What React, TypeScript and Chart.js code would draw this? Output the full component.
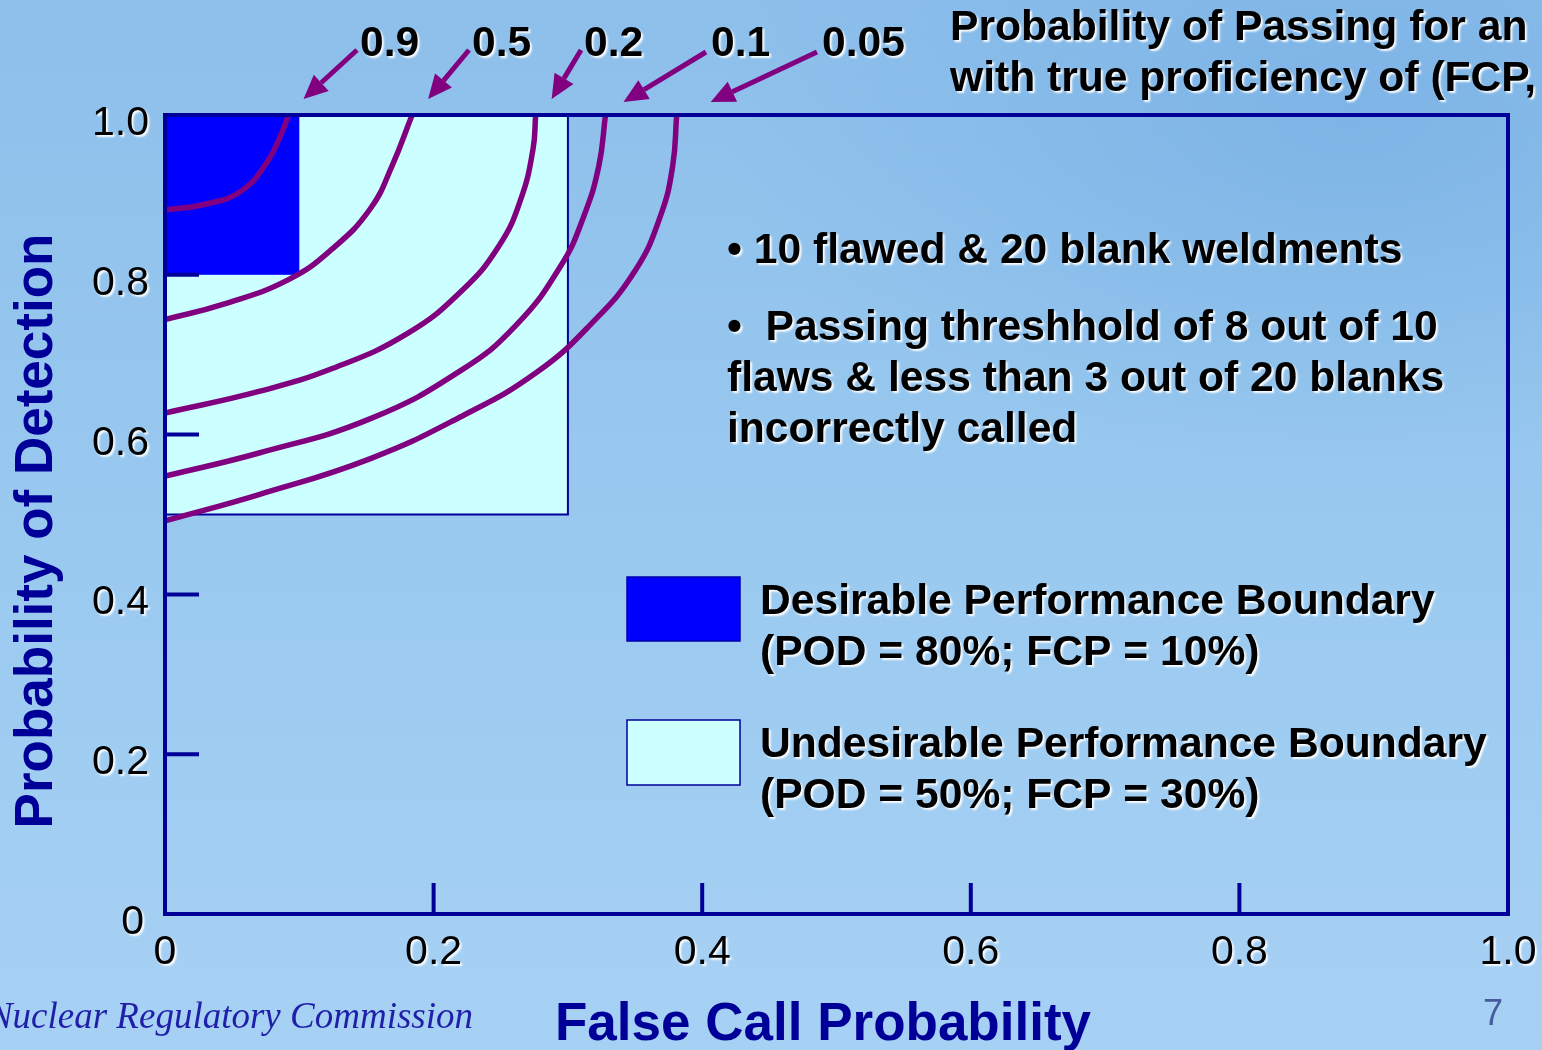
import React, { useEffect, useRef } from 'react';
import { Chart, registerables } from 'chart.js';

Chart.register(...registerables);

// Probability-of-passing contour levels, in drawing order
const contourLevels = ['0.9', '0.5', '0.2', '0.1', '0.05'];

// Contours: false call probability (x) vs. probability of detection (y)
const fcp90 = [0, 0.029, 0.056, 0.076, 0.087, 0.092];
const pod90 = [0.881, 0.888, 0.904, 0.941, 0.978, 1.0];
const fcp50 = [0, 0.043, 0.092, 0.125, 0.153, 0.169, 0.184];
const pod50 = [0.744, 0.763, 0.794, 0.833, 0.883, 0.936, 1.0];
const fcp20 = [0, 0.07, 0.125, 0.18, 0.221, 0.249, 0.265, 0.274, 0.276];
const pod20 = [0.627, 0.654, 0.683, 0.726, 0.78, 0.837, 0.895, 0.957, 1.0];
const fcp10 = [0, 0.07, 0.153, 0.221, 0.262, 0.295, 0.312, 0.323, 0.328];
const pod10 = [0.548, 0.577, 0.62, 0.681, 0.738, 0.812, 0.874, 0.936, 1.0];
const fcp05 = [0, 0.07, 0.153, 0.221, 0.276, 0.317, 0.35, 0.369, 0.378, 0.381];
const pod05 = [0.492, 0.525, 0.57, 0.623, 0.677, 0.738, 0.805, 0.874, 0.936, 1.0];

// Performance boundaries: [FCP limit, POD limit]
const desirableBoundary = [0.1, 0.8];
const undesirableBoundary = [0.3, 0.5];

// Axis ticks
const xTickValues = [0, 0.2, 0.4, 0.6, 0.8, 1.0];
const xTickLabels = ['0', '0.2', '0.4', '0.6', '0.8', '1.0'];
const yTickValues = [0, 0.2, 0.4, 0.6, 0.8, 1.0];
const yTickLabels = ['0', '0.2', '0.4', '0.6', '0.8', '1.0'];

// Slide text
const titleLines = ['Probability of Passing for an', 'with true proficiency of (FCP,'];
const bulletLines = [
  '\u2022 10 flawed & 20 blank weldments',
  '\u2022  Passing threshhold of 8 out of 10',
  'flaws & less than 3 out of 20 blanks',
  'incorrectly called',
];
const legendDesirable = ['Desirable Performance Boundary', '(POD = 80%; FCP = 10%)'];
const legendUndesirable = ['Undesirable Performance Boundary', '(POD = 50%; FCP = 30%)'];
const xTitle = 'False Call Probability';
const yTitle = 'Probability of Detection';
const footer = 'Nuclear Regulatory Commission';
const pageNumber = '7';

const SANS = '"Liberation Sans", Arial, Helvetica, sans-serif';
const SERIF = '"Liberation Serif", "Times New Roman", serif';
const NAVY = '#000099';
const PURPLE = '#800080';

const contours = [
  [fcp90, pod90],
  [fcp50, pod50],
  [fcp20, pod20],
  [fcp10, pod10],
  [fcp05, pod05],
];

function glowText(
  ctx: CanvasRenderingContext2D,
  text: string,
  x: number,
  y: number,
  font: string,
  align: CanvasTextAlign = 'left',
  color = '#000'
) {
  ctx.save();
  ctx.font = font;
  ctx.textAlign = align;
  ctx.textBaseline = 'alphabetic';
  ctx.shadowColor = 'rgba(255,255,255,0.95)';
  ctx.shadowOffsetX = 2;
  ctx.shadowOffsetY = 2;
  ctx.shadowBlur = 2;
  ctx.fillStyle = color;
  ctx.fillText(text, x, y);
  ctx.restore();
}

function arrow(ctx: CanvasRenderingContext2D, x0: number, y0: number, x1: number, y1: number) {
  const ang = Math.atan2(y1 - y0, x1 - x0);
  const headLen = 24;
  const headHalf = 11;
  const bx = x1 - headLen * Math.cos(ang);
  const by = y1 - headLen * Math.sin(ang);
  ctx.save();
  ctx.strokeStyle = PURPLE;
  ctx.fillStyle = PURPLE;
  ctx.lineWidth = 5;
  ctx.beginPath();
  ctx.moveTo(x0, y0);
  ctx.lineTo(bx, by);
  ctx.stroke();
  ctx.beginPath();
  ctx.moveTo(x1, y1);
  ctx.lineTo(bx + headHalf * Math.sin(ang), by - headHalf * Math.cos(ang));
  ctx.lineTo(bx - headHalf * Math.sin(ang), by + headHalf * Math.cos(ang));
  ctx.closePath();
  ctx.fill();
  ctx.restore();
}

const slidePlugin = {
  id: 'slideDecor',
  beforeDatasetsDraw(chart: any) {
    const { ctx, scales } = chart;
    const x = scales.x;
    const y = scales.y;
    const x0 = x.getPixelForValue(0);
    const top = y.getPixelForValue(1);

    // Undesirable performance region
    const ux = x.getPixelForValue(undesirableBoundary[0]);
    const uy = y.getPixelForValue(undesirableBoundary[1]);
    ctx.save();
    ctx.fillStyle = '#CCFFFF';
    ctx.fillRect(x0, top, ux - x0, uy - top);
    ctx.strokeStyle = NAVY;
    ctx.lineWidth = 2;
    ctx.strokeRect(x0, top, ux - x0, uy - top);

    // Desirable performance region
    const dx = x.getPixelForValue(desirableBoundary[0]);
    const dy = y.getPixelForValue(desirableBoundary[1]);
    ctx.fillStyle = '#0000FF';
    ctx.fillRect(x0, top, dx - x0, dy - top);
    ctx.restore();
  },
  afterDatasetsDraw(chart: any) {
    const { ctx, chartArea: a, scales } = chart;
    const x = scales.x;
    const y = scales.y;
    ctx.save();
    ctx.strokeStyle = NAVY;
    ctx.lineWidth = 4;
    ctx.strokeRect(a.left, a.top, a.right - a.left, a.bottom - a.top);

    // inward tick marks
    xTickValues.forEach((v) => {
      if (v <= 0 || v >= 1) return;
      const px = x.getPixelForValue(v);
      ctx.beginPath();
      ctx.moveTo(px, a.bottom);
      ctx.lineTo(px, a.bottom - 31);
      ctx.stroke();
    });
    yTickValues.forEach((v) => {
      if (v <= 0 || v >= 1) return;
      const py = y.getPixelForValue(v);
      ctx.beginPath();
      ctx.moveTo(a.left, py);
      ctx.lineTo(a.left + 34, py);
      ctx.stroke();
    });
    ctx.restore();
  },
  afterDraw(chart: any) {
    const { ctx, chartArea: a, scales } = chart;
    const x = scales.x;
    const y = scales.y;
    const tickFont = `41px ${SANS}`;
    const bold = `bold 42.6px ${SANS}`;

    // tick labels
    xTickValues.forEach((v, i) => {
      glowText(ctx, xTickLabels[i], x.getPixelForValue(v), a.bottom + 50, tickFont, 'center');
    });
    yTickValues.forEach((v, i) => {
      glowText(ctx, yTickLabels[i], a.left - 16 - (v === 0 ? 5 : 0), y.getPixelForValue(v) + 20, tickFont, 'right');
    });

    // axis titles
    ctx.save();
    ctx.font = `bold 53px ${SANS}`;
    ctx.fillStyle = NAVY;
    ctx.textAlign = 'center';
    ctx.textBaseline = 'alphabetic';
    ctx.fillText(xTitle, 823, 1040);
    ctx.translate(52, 531);
    ctx.rotate(-Math.PI / 2);
    ctx.fillText(yTitle, 0, 0);
    ctx.restore();

    // contour level labels, each with an arrow to its curve's upper end
    const labelLeft = [360, 472, 584, 711, 822];
    const tipDx = [15, 16, 16, 18, 34];
    contourLevels.forEach((lvl, i) => {
      const [fx, fy] = contours[i];
      const n = fx.length - 1;
      const tx = x.getPixelForValue(fx[n]) + tipDx[i];
      const ty = y.getPixelForValue(fy[n]) - (i < 3 ? 16 : 13);
      glowText(ctx, lvl, labelLeft[i], 56, bold);
      arrow(ctx, labelLeft[i] - (i < 3 ? 3 : 5), i < 3 ? 50 : 52, tx, ty);
    });

    // title block (runs off the right edge)
    glowText(ctx, titleLines[0], 950, 40, bold);
    glowText(ctx, titleLines[1], 950, 91, bold);

    // notes
    const bulletBase = [263, 340, 391, 442];
    bulletLines.forEach((t, i) => glowText(ctx, t, 727, bulletBase[i], bold));

    // legend
    ctx.save();
    ctx.fillStyle = '#0000FF';
    ctx.fillRect(627, 577, 113, 64);
    ctx.strokeStyle = '#0000AA';
    ctx.lineWidth = 1.5;
    ctx.strokeRect(627, 577, 113, 64);
    ctx.fillStyle = '#CCFFFF';
    ctx.fillRect(627, 720, 113, 65);
    ctx.strokeStyle = NAVY;
    ctx.strokeRect(627, 720, 113, 65);
    ctx.restore();
    glowText(ctx, legendDesirable[0], 760, 614, bold);
    glowText(ctx, legendDesirable[1], 760, 665, bold);
    glowText(ctx, legendUndesirable[0], 760, 757, bold);
    glowText(ctx, legendUndesirable[1], 760, 808, bold);

    // footer
    ctx.save();
    ctx.font = `italic 37px ${SERIF}`;
    ctx.fillStyle = '#1f1fa8';
    ctx.textAlign = 'right';
    ctx.fillText(footer, 473, 1028);
    ctx.font = `36px ${SANS}`;
    ctx.fillStyle = '#4a5a9e';
    ctx.textAlign = 'center';
    ctx.fillText(pageNumber, 1493, 1025);
    ctx.restore();
  },
};

export default function App() {
  const canvasRef = useRef<HTMLCanvasElement | null>(null);

  useEffect(() => {
    document.body.style.margin = '0';
    document.body.style.overflow = 'hidden';
    const canvas = canvasRef.current;
    if (!canvas) return;
    const chart = new Chart(canvas, {
      type: 'line',
      data: {
        datasets: contours.map(([fx, fy], i) => ({
          label: `P(pass) = ${contourLevels[i]}`,
          data: fx.map((v, j) => ({ x: v, y: fy[j] })),
          borderColor: PURPLE,
          borderWidth: 5.5,
          pointRadius: 0,
          fill: false,
          tension: 0.45,
        })),
      },
      options: {
        responsive: false,
        animation: false,
        devicePixelRatio: 1,
        layout: { padding: { left: 165, top: 115, right: 34, bottom: 136 } },
        scales: {
          x: { type: 'linear', min: 0, max: 1, display: false },
          y: { type: 'linear', min: 0, max: 1, display: false },
        },
        plugins: { legend: { display: false }, tooltip: { enabled: false } },
        events: [],
      },
      plugins: [slidePlugin],
    });
    return () => chart.destroy();
  }, []);

  return (
    <div
      style={{
        position: 'relative',
        width: 1542,
        height: 1050,
        overflow: 'hidden',
        background:
          'radial-gradient(ellipse 900px 500px at 1350px 120px, rgba(110,170,225,0.55), rgba(110,170,225,0) 70%), linear-gradient(to bottom, #8dbfeb 0%, #98c8ef 45%, #a7d1f4 100%)',
      }}
    >
      <canvas ref={canvasRef} width={1542} height={1050} style={{ display: 'block' }} />
    </div>
  );
}
